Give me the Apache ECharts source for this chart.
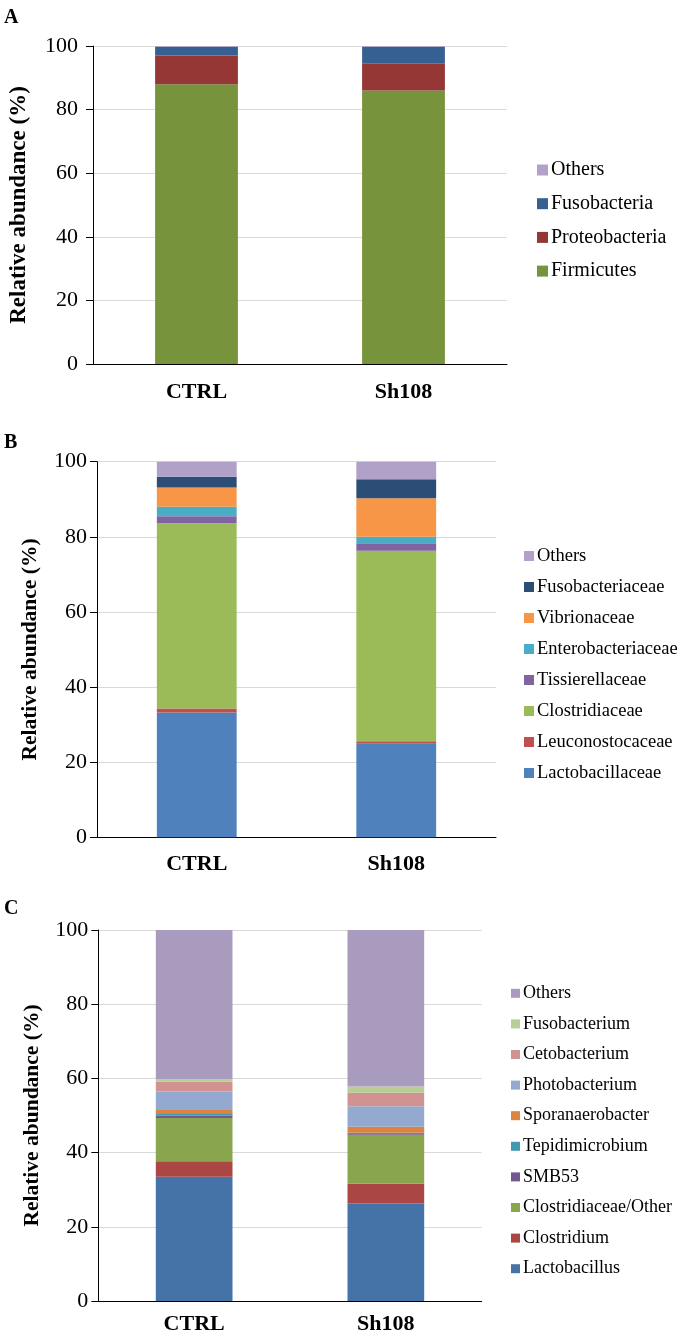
<!DOCTYPE html>
<html>
<head>
<meta charset="utf-8">
<script src="https://cdn.jsdelivr.net/npm/echarts@6/dist/echarts.min.js"></script>
<style>
html,body{margin:0;padding:0;background:#fff;width:681px;height:1335px;overflow:hidden;}
.panel{position:absolute;left:0;width:681px;}
</style>
</head>
<body>
<div id="pA" class="panel" style="top:0;height:425px"></div>
<div id="pB" class="panel" style="top:425px;height:465px"></div>
<div id="pC" class="panel" style="top:890px;height:445px"></div>
<script>
// ---------- data ----------
const categories = ['CTRL', 'Sh108'];
const yTicks = [0, 20, 40, 60, 80, 100];

// Panel A (phylum)
const namesA = ['Firmicutes', 'Proteobacteria', 'Fusobacteria', 'Others'];
const A_Firmicutes     = [88.0, 86.0];
const A_Proteobacteria = [9.0, 8.4];
const A_Fusobacteria   = [2.8, 5.4];
const A_Others         = [0.2, 0.2];

// Panel B (family)
const namesB = ['Lactobacillaceae', 'Leuconostocaceae', 'Clostridiaceae', 'Tissierellaceae',
                'Enterobacteriaceae', 'Vibrionaceae', 'Fusobacteriaceae', 'Others'];
const B_Lactobacillaceae   = [33.2, 24.9];
const B_Leuconostocaceae   = [1.1, 0.7];
const B_Clostridiaceae     = [49.3, 50.7];
const B_Tissierellaceae    = [1.9, 2.0];
const B_Enterobacteriaceae = [2.5, 1.7];
const B_Vibrionaceae       = [5.1, 10.3];
const B_Fusobacteriaceae   = [2.9, 5.0];
const B_Others             = [4.0, 4.7];

// Panel C (genus)
const namesC = ['Lactobacillus', 'Clostridium', 'Clostridiaceae/Other', 'SMB53', 'Tepidimicrobium',
                'Sporanaerobacter', 'Photobacterium', 'Cetobacterium', 'Fusobacterium', 'Others'];
const C_Lactobacillus      = [33.5, 26.3];
const C_Clostridium        = [4.2, 5.3];
const C_ClostridiaceaeOther= [11.6, 13.2];
const C_SMB53              = [0.6, 0.2];
const C_Tepidimicrobium    = [0.5, 0.35];
const C_Sporanaerobacter   = [1.1, 1.65];
const C_Photobacterium     = [5.0, 5.5];
const C_Cetobacterium      = [2.6, 3.6];
const C_Fusobacterium      = [0.7, 1.7];
const C_Others             = [40.2, 42.2];

// ---------- styles ----------
const colorsA = ['#77933C', '#953735', '#376092', '#B3A2C7'];
const colorsB = ['#4F81BD', '#C0504D', '#9BBB59', '#8064A2', '#4BACC6', '#F79646', '#2C4D75', '#B1A0C7'];
const colorsC = ['#4572A7', '#AA4643', '#89A54E', '#71588F', '#4198AF', '#DB843D', '#93A9CF', '#D19392', '#B9CD96', '#A99BBD'];

const SERIF = '"Liberation Serif","Times New Roman",serif';

function buildOption(cfg) {
  const series = cfg.names.map((n, i) => ({
    name: n, type: 'bar', stack: 'total', barWidth: '40%',
    itemStyle: { color: cfg.colors[i] },
    emphasis: { disabled: true },
    data: cfg.values[i]
  }));
  return {
    animation: false,
    backgroundColor: 'transparent',
    title: {
      text: cfg.letter, left: 4, top: cfg.letterTop, padding: 0,
      textStyle: { fontFamily: SERIF, fontWeight: 'bold', fontSize: 20, color: '#000' }
    },
    grid: cfg.grid,
    legend: {
      orient: 'vertical', left: cfg.legend.left, top: cfg.legend.top, padding: 0,
      itemWidth: cfg.legend.icon, itemHeight: cfg.legend.icon, itemGap: cfg.legend.gap,
      icon: 'rect', selectedMode: false,
      data: cfg.names.slice().reverse(),
      textStyle: { fontFamily: SERIF, fontSize: cfg.legend.font, lineHeight: cfg.legend.font, color: '#000', padding: [0, 0, 0, -2] }
    },
    xAxis: {
      type: 'category', data: categories,
      axisLine: { lineStyle: { color: '#000', width: 1 } },
      axisTick: { show: false },
      axisLabel: { fontFamily: SERIF, fontWeight: 'bold', fontSize: 22, color: '#000', margin: cfg.catMargin }
    },
    yAxis: {
      type: 'value', min: yTicks[0], max: yTicks[yTicks.length - 1], interval: 20,
      name: 'Relative abundance (%)', nameLocation: 'middle', nameGap: cfg.nameGap, nameRotate: 90,
      nameTextStyle: { fontFamily: SERIF, fontWeight: 'bold', fontSize: cfg.nameFont, color: '#000' },
      axisLine: { show: true, lineStyle: { color: '#000', width: 1 } },
      axisTick: { show: true, length: 7, lineStyle: { color: '#000' } },
      axisLabel: { fontFamily: SERIF, fontSize: 22, color: '#000', margin: cfg.tickMargin },
      splitLine: { lineStyle: { color: '#D9D9D9', width: 1 } }
    },
    series: series
  };
}

const chartA = echarts.init(document.getElementById('pA'), null, { renderer: 'canvas' });
chartA.setOption(buildOption({
  letter: 'A', letterTop: 8,
  names: namesA, colors: colorsA,
  values: [A_Firmicutes, A_Proteobacteria, A_Fusobacteria, A_Others],
  grid: { left: 88, right: 174, top: 46, bottom: 61 },
  legend: { left: 537, top: 160, icon: 11, gap: 13.7, font: 20 },
  catMargin: 17, nameGap: 62, nameFont: 23, tickMargin: 15
}));

const chartB = echarts.init(document.getElementById('pB'), null, { renderer: 'canvas' });
chartB.setOption(buildOption({
  letter: 'B', letterTop: 8,
  names: namesB, colors: colorsB,
  values: [B_Lactobacillaceae, B_Leuconostocaceae, B_Clostridiaceae, B_Tissierellaceae,
           B_Enterobacteriaceae, B_Vibrionaceae, B_Fusobacteriaceae, B_Others],
  grid: { left: 97, right: 185, top: 36.7, bottom: 52.7 },
  legend: { left: 524, top: 121.5, icon: 10, gap: 12, font: 18.5 },
  catMargin: 16, nameGap: 56, nameFont: 21.5, tickMargin: 10
}));

const chartC = echarts.init(document.getElementById('pC'), null, { renderer: 'canvas' });
chartC.setOption(buildOption({
  letter: 'C', letterTop: 9,
  names: namesC, colors: colorsC,
  values: [C_Lactobacillus, C_Clostridium, C_ClostridiaceaeOther, C_SMB53, C_Tepidimicrobium,
           C_Sporanaerobacter, C_Photobacterium, C_Cetobacterium, C_Fusobacterium, C_Others],
  grid: { left: 98.3, right: 199.3, top: 40, bottom: 31.7 },
  legend: { left: 511, top: 94.3, icon: 9, gap: 12.6, font: 18 },
  catMargin: 12, nameGap: 55, nameFont: 21.5, tickMargin: 10
}));
</script>
</body>
</html>
